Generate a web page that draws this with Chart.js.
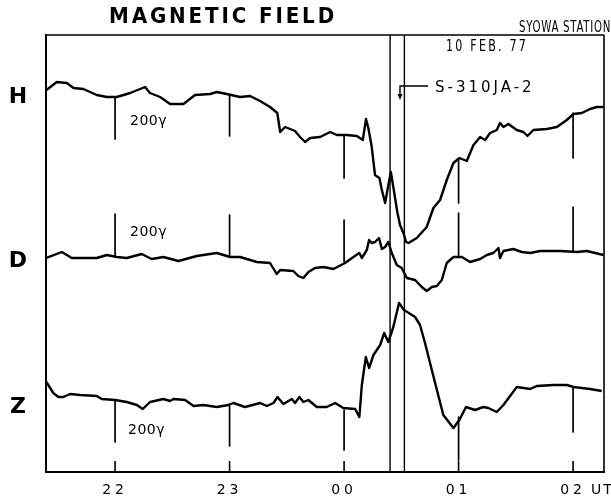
<!DOCTYPE html>
<html><head><meta charset="utf-8">
<script src="https://cdn.jsdelivr.net/npm/chart.js@4.4.1/dist/chart.umd.min.js"></script>
<style>html,body{margin:0;padding:0;background:#fff}#wrap{position:relative;width:611px;height:500px}</style>
</head><body><div id="wrap"><canvas id="c" width="611" height="500"></canvas></div>
<script>
// Time axis: minutes relative to 00 UT, 10 Feb 1977
const hourMarks = [-120, -60, 0, 60, 120];
const hourLabels = ['22', '23', '00', '01', '02'];
const launchMinutes = [24.1, 31.6];

// H component trace (minutes, relative deflection)
const hMinutes = [-156,-150.5,-145.3,-141.8,-136.6,-129.6,-124.3,-119.1,-112.1,-106.9,-104.3,-101.7,-96.4,-91.2,-84.2,-78.1,-70.2,-66.7,-61.5,-54.5,-49.3,-44.0,-38.8,-35.0,-33.5,-30.9,-28.3,-25.7,-23.1,-20.4,-17.8,-12.6,-7.3,-3.8,1.4,6.7,9.8,11.5,12.7,14.5,16.2,18.5,19.8,21.5,23.2,24.5,25.8,27.9,29.3,31.1,32.5,33.7,38.1,43.3,46.8,50.3,53.8,57.3,60.4,64.3,67.8,71.3,73.9,76.5,80.0,81.7,83.5,86.1,90.5,94.0,96.1,99.2,106.2,111.5,116.7,120.2,124.6,128.9,132.4,135.9];
const hValues = [382,390,389,384,383,377,375,375,379,383,385,379,375,368,368,377,378,380,378,375,376,371,365,359,340,345,343,341,335,330,334,335,340,337,337,336,332,353,344,325,297,294,282,269,287,300,285,260,247,239,230,229,234,245,264,272,292,309,314,311,327,335,332,339,342,349,345,348,342,340,336,342,343,345,352,358,359,363,365,365];

// D component trace
const dMinutes = [-156,-147.9,-142.7,-129.6,-124.3,-119.1,-113.9,-106.0,-100.8,-94.7,-86.8,-77.2,-66.7,-59.7,-54.5,-45.7,-38.8,-35.3,-33.5,-26.6,-24.0,-21.3,-18.7,-15.2,-10.8,-5.6,0.5,4.9,8.0,9.3,11.9,13.1,14.5,16.2,18.3,19.8,21.5,23.2,25.0,27.6,30.2,32.9,37.2,40.7,43.3,46.0,48.6,51.2,53.8,57.3,61.7,66.0,71.3,74.8,78.2,80.9,81.7,83.5,88.7,93.1,97.5,102.7,113.2,121.9,127.2,135.9];
const dValues = [214,220,214,214,217,215,214,218,213,215,211,216,219,215,215,210,209,198,202,201,196,194,200,204,205,203,209,215,219,214,222,232,229,230,234,223,225,230,219,207,204,194,192,185,181,185,186,192,209,215,215,210,213,217,219,224,214,221,223,220,219,221,221,220,221,217];

// Z component trace
const zMinutes = [-156,-155.0,-152.4,-149.7,-147.1,-143.6,-138.3,-129.6,-127.0,-120.0,-113.9,-108.6,-105.5,-101.7,-94.7,-91.2,-89.4,-83.3,-78.9,-73.7,-66.7,-60.6,-58.0,-51.9,-44.0,-40.5,-37.0,-34.9,-31.8,-27.4,-25.7,-23.4,-21.3,-18.7,-14.3,-9.1,-4.7,-0.4,5.8,8.0,9.3,11.4,13.1,15.4,18.9,21.0,23.2,25.8,28.8,31.4,37.2,39.8,42.4,47.7,52.0,57.3,60.4,63.9,68.6,73.0,75.6,80.0,83.5,90.5,97.5,101.0,109.7,116.7,120.2,128.9,135.0];
const zValues = [90,87,79,75,75,78,77,76,73,72,70,67,63,70,73,71,73,72,66,67,65,67,69,65,69,66,69,75,68,73,69,75,70,72,65,65,69,64,63,55,87,115,104,117,127,139,130,145,169,162,155,147,129,89,57,44,52,65,62,65,64,60,67,85,83,86,87,87,85,83,81];

// Hourly 200 gamma scale marks (ends of each bar, per trace)
const hBarTop = [374,377,337,313,359];
const hBarBottom = [333,336,294,269,314];
const dBarTop = [258,257,252,259,265];
const dBarBottom = [216,215,210,215,220];
const zBarTop = [72,68,62,55,85];
const zBarBottom = [30,26,22,12,40];

const yMax = 437;

function trace(ts, vs) { return ts.map((t, i) => ({x: t, y: vs[i]})); }
function bars(tops, bottoms) {
  const pts = [];
  hourMarks.forEach((h, i) => { pts.push({x: h, y: tops[i]}, {x: h, y: bottoms[i]}, {x: h, y: null}); });
  return pts;
}
function launch() {
  const pts = [];
  launchMinutes.forEach(m => { pts.push({x: m, y: 0}, {x: m, y: yMax}, {x: m, y: null}); });
  return pts;
}

const FONT = '"DejaVu Sans", sans-serif';

const deco = {
  id: 'deco',
  beforeDraw(chart) { chart.ctx.letterSpacing = '4px'; },
  beforeDatasetsDraw(chart) { chart.ctx.letterSpacing = '0px'; },
  afterDraw(chart) {
    const ctx = chart.ctx, a = chart.chartArea, xs = chart.scales.x;
    ctx.save();
    ctx.strokeStyle = '#000'; ctx.fillStyle = '#000';
    // top and right frame
    ctx.lineWidth = 1.6;
    ctx.beginPath();
    ctx.moveTo(a.left, a.top); ctx.lineTo(a.right, a.top);
    ctx.moveTo(a.right, a.top); ctx.lineTo(a.right, a.bottom);
    ctx.stroke();
    // inner hour tick marks on bottom axis
    ctx.lineWidth = 1.6;
    ctx.beginPath();
    hourMarks.forEach(h => { const px = xs.getPixelForValue(h); ctx.moveTo(px, a.bottom); ctx.lineTo(px, a.bottom - 11); });
    ctx.stroke();
    // "UT" after last label
    ctx.font = '14px ' + FONT; ctx.textBaseline = 'middle'; ctx.textAlign = 'left';
    ctx.letterSpacing = '2px';
    ctx.fillText('UT', 591, 490);
    // title
    ctx.letterSpacing = '3px';
    ctx.font = 'bold 21px ' + FONT; ctx.textAlign = 'center';
    ctx.fillText('MAGNETIC FIELD', 223, 18, 228);
    ctx.letterSpacing = '1px';
    ctx.font = '15px ' + FONT; ctx.textAlign = 'right';
    ctx.fillText('SYOWA STATION', 611, 28, 92);
    ctx.letterSpacing = '3px';
    ctx.textAlign = 'center';
    ctx.font = '15px ' + FONT;
    ctx.fillText('10 FEB. 77', 487, 47, 82);
    ctx.letterSpacing = '3px';
    ctx.font = '15px ' + FONT; ctx.textAlign = 'left';
    ctx.fillText('S-310JA-2', 435, 88, 101);
    // arrow
    ctx.letterSpacing = '0px';
    ctx.lineWidth = 1.4;
    ctx.beginPath(); ctx.moveTo(428, 86); ctx.lineTo(400, 86); ctx.lineTo(400, 95); ctx.stroke();
    ctx.beginPath(); ctx.moveTo(397.5, 94); ctx.lineTo(402.5, 94); ctx.lineTo(400, 100); ctx.closePath(); ctx.fill();
    // component labels
    ctx.font = 'bold 22px ' + FONT; ctx.textAlign = 'center';
    ctx.fillText('H', 18, 97);
    ctx.fillText('D', 18, 261);
    ctx.fillText('Z', 18, 407);
    // scale labels
    ctx.font = '14px ' + FONT; ctx.textAlign = 'left'; ctx.letterSpacing = '0.5px';
    ctx.fillText('200γ', 130, 121);
    ctx.fillText('200γ', 130, 232);
    ctx.fillText('200γ', 128, 430);
    ctx.restore();
  }
};

new Chart(document.getElementById('c'), {
  type: 'line',
  data: {
    datasets: [
      {data: trace(hMinutes, hValues), borderWidth: 2.4},
      {data: trace(dMinutes, dValues), borderWidth: 2.4},
      {data: trace(zMinutes, zValues), borderWidth: 2.4},
      {data: bars(hBarTop, hBarBottom), borderWidth: 1.7, spanGaps: false},
      {data: bars(dBarTop, dBarBottom), borderWidth: 1.7, spanGaps: false},
      {data: bars(zBarTop, zBarBottom), borderWidth: 1.7, spanGaps: false},
      {data: launch(), borderWidth: 1.4, spanGaps: false}
    ]
  },
  options: {
    responsive: false,
    animation: false,
    layout: {padding: {left: 46, right: 7, top: 35, bottom: 2}},
    plugins: {legend: {display: false}, tooltip: {enabled: false}},
    elements: {point: {radius: 0}, line: {tension: 0, borderColor: '#000', borderJoinStyle: 'round', borderCapStyle: 'butt'}},
    scales: {
      x: {
        type: 'linear', min: -156.2, max: 136.2,
        afterBuildTicks: s => { s.ticks = hourMarks.map(v => ({value: v})); },
        afterFit: s => { s.height = 26; },
        ticks: {callback: v => hourLabels[hourMarks.indexOf(v)], font: {family: FONT, size: 14}, color: '#000', padding: 10, maxRotation: 0, autoSkip: false},
        grid: {display: false, drawTicks: false},
        border: {display: true, color: '#000', width: 2}
      },
      y: {
        min: 0, max: yMax,
        ticks: {display: false},
        grid: {display: false, drawTicks: false},
        border: {display: true, color: '#000', width: 2}
      }
    }
  },
  plugins: [deco]
});
</script></body></html>
